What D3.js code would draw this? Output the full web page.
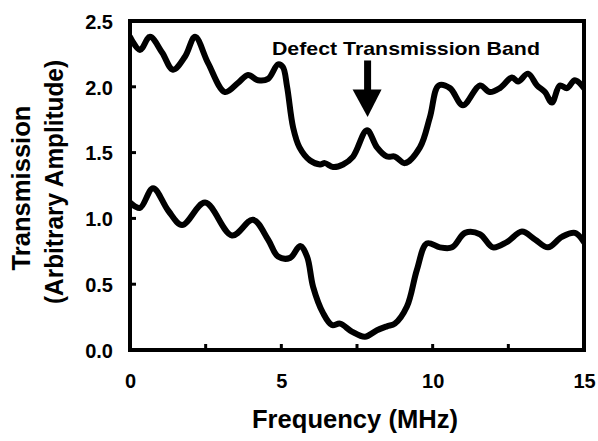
<!DOCTYPE html>
<html lang="en">
<head>
    <meta charset="UTF-8">
    <title>Transmission vs Frequency</title>
    <script src="https://d3js.org/d3.v7.min.js"></script>
    <style>
        body {
            margin: 0;
            background: #fff;
        }
        text {
            font-family: "Liberation Sans", Arial, sans-serif;
            font-weight: bold;
            fill: #000;
        }
        .trace {
            fill: none;
            stroke: #000;
            stroke-width: 6;
            stroke-linejoin: round;
            stroke-linecap: round;
        }
    </style>
</head>
<body>
    <svg id="chart" width="598" height="441"></svg>
    <script>
        // upper trace (sample with defect)
        const freqUpper = [0, 0.33, 0.66, 1.06, 1.42, 1.82, 2.15, 2.58, 3.14, 3.57, 3.9, 4.23, 4.56, 4.89, 5.05, 5.19, 5.39, 5.6, 5.95, 6.28, 6.44, 6.71, 7.04, 7.37, 7.83, 8.16, 8.49, 8.75, 9.08, 9.58, 9.91, 10.2, 10.57, 11.0, 11.56, 11.89, 12.22, 12.62, 12.82, 13.15, 13.45, 13.71, 13.94, 14.2, 14.44, 14.7, 15];
        const transUpper = [2.38, 2.28, 2.38, 2.26, 2.13, 2.23, 2.38, 2.18, 1.96, 2.03, 2.09, 2.05, 2.06, 2.17, 2.15, 2.0, 1.69, 1.54, 1.44, 1.41, 1.42, 1.39, 1.41, 1.47, 1.67, 1.54, 1.47, 1.47, 1.42, 1.54, 1.77, 2.01, 1.99, 1.86, 2.01, 1.96, 1.99, 2.07, 2.04, 2.1, 2.01, 1.96, 1.88, 2.01, 1.99, 2.05, 1.99];

        // lower trace (reference)
        const freqLower = [0, 0.33, 0.76, 1.26, 1.72, 2.48, 3.37, 4.06, 4.56, 4.89, 5.29, 5.62, 5.85, 6.05, 6.38, 6.67, 6.94, 7.33, 7.76, 8.16, 8.49, 8.75, 9.15, 9.48, 9.81, 10.24, 10.64, 11.07, 11.56, 11.99, 12.45, 12.95, 13.38, 13.81, 14.27, 14.7, 15];
        const transLower = [1.12, 1.08, 1.23, 1.06, 0.95, 1.12, 0.87, 0.99, 0.84, 0.71, 0.7, 0.79, 0.71, 0.48, 0.28, 0.19, 0.2, 0.14, 0.1, 0.15, 0.18, 0.2, 0.33, 0.61, 0.81, 0.78, 0.78, 0.89, 0.88, 0.78, 0.82, 0.9, 0.84, 0.78, 0.86, 0.89, 0.82];

        const xTicks = [0, 5, 10, 15];
        const xMinor = [2.5, 7.5, 12.5];
        const yTicks = [0, 0.5, 1.0, 1.5, 2.0, 2.5];

        const svg = d3.select("#chart");
        const margin = {left: 130, right: 14, top: 21, bottom: 91};
        const W = 598, H = 441;

        const x = d3.scaleLinear().domain([0, 15]).range([margin.left, W - margin.right]);
        const y = d3.scaleLinear().domain([0, 2.5]).range([H - margin.bottom, margin.top]);

        svg.append("clipPath").attr("id", "plot")
            .append("rect")
            .attr("x", x(0)).attr("y", y(2.5))
            .attr("width", x(15) - x(0)).attr("height", y(0) - y(2.5));

        const line = d3.line()
            .x((d, i) => x(d[0]))
            .y(d => y(d[1]))
            .curve(d3.curveCatmullRom.alpha(0.5));

        const g = svg.append("g").attr("clip-path", "url(#plot)");
        g.append("path").attr("class", "trace")
            .attr("d", line(d3.zip(freqUpper, transUpper)));
        g.append("path").attr("class", "trace")
            .attr("d", line(d3.zip(freqLower, transLower)));

        // frame
        svg.append("rect")
            .attr("x", x(0)).attr("y", y(2.5))
            .attr("width", x(15) - x(0)).attr("height", y(0) - y(2.5))
            .attr("fill", "none").attr("stroke", "#000").attr("stroke-width", 4);

        // axes (inward ticks, labels)
        const xAxis = d3.axisBottom(x).tickValues(xTicks).tickSize(0).tickPadding(24).tickFormat(d3.format("d"));
        const yAxis = d3.axisLeft(y).tickValues(yTicks).tickSize(0).tickPadding(17).tickFormat(d3.format(".1f"));

        const gx = svg.append("g").attr("transform", `translate(0,${y(0)})`).call(xAxis);
        const gy = svg.append("g").attr("transform", `translate(${x(0)},0)`).call(yAxis);
        [gx, gy].forEach(a => {
            a.select(".domain").remove();
            a.selectAll("text").style("font-size", "20px").attr("font-family", null);
        });
        gy.selectAll("text").attr("dy", "0.36em");

        xTicks.concat(xMinor).forEach(v => {
            svg.append("line")
                .attr("x1", x(v)).attr("x2", x(v))
                .attr("y1", y(0)).attr("y2", y(0) - 6)
                .attr("stroke", "#000").attr("stroke-width", 3);
        });
        yTicks.forEach(v => {
            svg.append("line")
                .attr("x1", x(0)).attr("x2", x(0) + 6)
                .attr("y1", y(v)).attr("y2", y(v))
                .attr("stroke", "#000").attr("stroke-width", 3);
        });

        // axis titles
        svg.append("text")
            .attr("x", 355).attr("y", 428)
            .attr("text-anchor", "middle")
            .attr("textLength", 206).attr("lengthAdjust", "spacingAndGlyphs")
            .style("font-size", "25px")
            .text("Frequency (MHz)");

        svg.append("text")
            .attr("transform", "translate(30,188) rotate(-90)")
            .attr("text-anchor", "middle")
            .attr("textLength", 165).attr("lengthAdjust", "spacingAndGlyphs")
            .style("font-size", "25px")
            .text("Transmission");
        svg.append("text")
            .attr("transform", "translate(63,182) rotate(-90)")
            .attr("text-anchor", "middle")
            .attr("textLength", 244).attr("lengthAdjust", "spacingAndGlyphs")
            .style("font-size", "25px")
            .text("(Arbitrary Amplitude)");

        // annotation
        const arrowX = x(7.85);
        svg.append("text")
            .attr("x", x(4.69)).attr("y", y(2.24))
            .attr("textLength", 268).attr("lengthAdjust", "spacingAndGlyphs")
            .style("font-size", "19px")
            .text("Defect Transmission Band");
        svg.append("rect")
            .attr("x", arrowX - 3.5).attr("y", y(2.2))
            .attr("width", 7).attr("height", y(1.97) - y(2.2));
        svg.append("path")
            .attr("d", `M${arrowX - 15},${y(1.98)} L${arrowX + 14},${y(1.98)} L${arrowX},${y(1.77)} Z`)
            .attr("fill", "#000");
    </script>
</body>
</html>
